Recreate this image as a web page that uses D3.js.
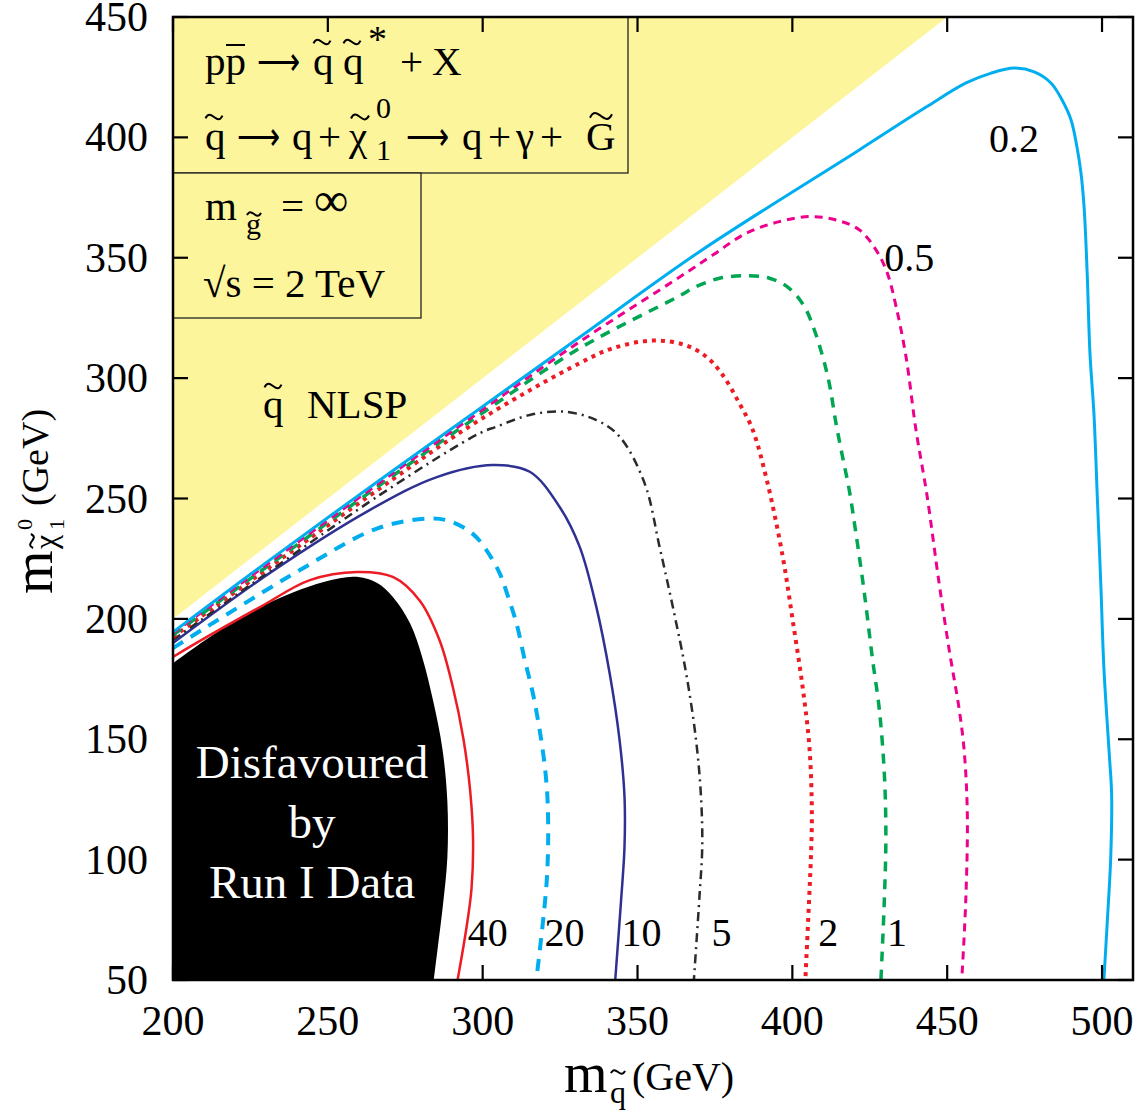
<!DOCTYPE html>
<html><head><meta charset="utf-8">
<script src="https://cdn.jsdelivr.net/npm/d3@7"></script>
<style>
body{margin:0;background:#fff}
text{font-family:"Liberation Serif","Times New Roman",Times,serif;fill:#000}
</style>
</head><body>
<svg id="chart" width="1147" height="1118"></svg>
<script>
// ---------------- data (GeV) ----------------
const xTicks = [200, 250, 300, 350, 400, 450, 500];
const yTicks = [50, 100, 150, 200, 250, 300, 350, 400, 450];
const contourLevels = ["40", "20", "10", "5", "2", "1", "0.5", "0.2"];

// squark-NLSP region boundary (m_chi > m_squark)
const nlspRegion = [[200, 200], [450, 450], [200, 450]];

// boundary of the region disfavoured by Run I data (closed down to the axis corner)
const excludedBoundary = [[200,181.5],[217.4,197],[238.7,211],[258.1,217.5],[265.8,215],[271,209.1],[276.5,198.3],[280.5,184],[284,166],[287,146],[288.6,124],[288.6,101],[287.1,80.3],[285.4,62.5],[284.2,50]];
const excludedCorner = [200, 50];

const contour40 = [[200,184.2],[206.5,189.2],[228.1,204.9],[244.2,216.1],[259.4,219.5],[271,217.4],[279.7,207.5],[286.1,191],[290.3,172],[293.8,150],[296,128],[296.9,108],[296.4,88],[294.8,72],[291.9,50]];
const contour20 = [[200,187.9],[241,220.3],[265.8,237.5],[281.8,241.6],[289.4,240.6],[296.9,235.2],[301.2,228.6],[305.5,218.9],[308.2,209.2],[310.9,198.2],[313.6,182.9],[316.2,169.1],[318.4,153.8],[320.3,135.9],[321.1,119.2],[320.7,91.5],[317.3,50]];
const contour10 = [[200,190],[231.3,219.1],[263.5,245.2],[285.2,258.9],[303.2,263.9],[315.2,261.1],[324.8,246.6],[331.3,230],[336.7,205],[341,177.4],[344.2,149.7],[345.8,126.1],[345.8,105.4],[344.7,83.2],[342.8,50]];
const contour5 = [[200,191.2],[266.8,251.5],[299,277.1],[304.4,279.8],[315.2,284.7],[325.9,286.1],[336.7,282.6],[344.2,275.7],[352.3,256.3],[357.1,230],[361.4,205],[365.7,177.4],[368.9,149.7],[370.5,126.1],[370.9,105.4],[370,84.6],[368.2,50]];
const contour2 = [[200,192.5],[266.8,254.2],[299,282.6],[331.3,306.2],[342,312.4],[354.9,315.6],[365.2,313.8],[372.2,308.9],[377.5,301.3],[382.9,289.5],[387.2,278.5],[392,256.3],[396.9,225.8],[400.1,199.5],[403.3,171.8],[405.5,146.9],[406.3,119.2],[406,101.2],[405.5,86],[404.2,50]];
const contour1 = [[200,193.3],[266.8,255.6],[299,284.7],[331.3,312.4],[363.5,334.1],[368.9,338],[376.5,341.5],[385.1,342.5],[392.6,341.5],[399,337.3],[403.9,329.7],[407.1,320],[409.8,308.9],[411.9,297.9],[414.1,281.2],[416.2,267.4],[418.4,253.3],[420.5,235.8],[423.2,211.2],[425.9,183.1],[428.1,162.2],[429.7,135.7],[430.2,109.4],[429.7,83.1],[428.6,50]];
const contour05 = [[200,194.1],[266.8,256.6],[299,286],[331.3,315.1],[363.5,341.9],[374.3,351.1],[385.1,360.2],[395.8,365],[405.5,367.1],[414.1,365.7],[421.6,361.6],[427,353.3],[430.7,343.5],[433.5,329.7],[436.7,308.9],[439.9,278.6],[443.4,252],[447.4,214.7],[450.7,186.7],[453.9,162.2],[455.5,145],[456.5,118.5],[456,83.1],[454.7,50]];
const contour02 = [[200,194.5],[231.3,224.5],[266.8,257.7],[299,287.3],[331.3,317],[370,352.5],[421.6,394.8],[443.2,412.6],[456.1,422.6],[464.2,426.7],[471.6,428.8],[478.1,427.2],[483.5,422.6],[487.1,415.5],[490,407.2],[491.9,396],[493.2,385.2],[494.2,371.1],[495.2,343.7],[496.1,310.4],[497.4,284.9],[498.5,249.8],[499.6,214.7],[500.6,179.6],[502.3,144.5],[503.1,127],[502.8,100.7],[501.7,74.3],[500.6,50]];

// label anchor positions (GeV) for each contour
const labelAnchors = [[295.2,64.1],[320,64.1],[344.8,64.1],[373.9,64.1],[408.4,64.1],[430.6,64.1],[429.7,344.5],[463.5,393.9]];

// ---------------- styles ----------------
const styles = {
  "40":  {stroke:"#ed1c24", width:2.5, dash:null},
  "20":  {stroke:"#00aeef", width:4,   dash:"12,9"},
  "10":  {stroke:"#2e3192", width:2.5, dash:null},
  "5":   {stroke:"#2b2b2b", width:2.5, dash:"9,5,2,5"},
  "2":   {stroke:"#ed1c24", width:4,   dash:"4,5"},
  "1":   {stroke:"#00a651", width:3.5, dash:"10,8"},
  "0.5": {stroke:"#ec008c", width:3,   dash:"8,6"},
  "0.2": {stroke:"#00aeef", width:3,   dash:null}
};
const contourData = [contour40, contour20, contour10, contour5, contour2, contour1, contour05, contour02];
const contours = contourLevels.map((lv, i) => ({level: lv, points: contourData[i], label: labelAnchors[i]}));

// ---------------- layout ----------------
const svg = d3.select("#chart");
const L = 173, R = 1133, T = 17, B = 980;
const x = d3.scaleLinear().domain([200, 510]).range([L, R]);
const y = d3.scaleLinear().domain([50, 450]).range([B, T]);

svg.append("defs").append("clipPath").attr("id","clip")
  .append("rect").attr("x",L).attr("y",T).attr("width",R-L).attr("height",B-T);
const plot = svg.append("g").attr("clip-path","url(#clip)");

const YEL = "#fdf59c";
plot.append("path")
  .attr("d", d3.line().x(d=>x(d[0])).y(d=>y(d[1]))(nlspRegion) + "Z")
  .attr("fill", YEL);

plot.append("rect").attr("x",L).attr("y",T).attr("width",628-L).attr("height",173-T)
  .attr("fill",YEL).attr("stroke","#222").attr("stroke-width",1.3);
plot.append("rect").attr("x",L).attr("y",173).attr("width",421-L).attr("height",318-173)
  .attr("fill",YEL).attr("stroke","#222").attr("stroke-width",1.3);

// excluded region
const smooth = d3.line().x(d=>x(d[0])).y(d=>y(d[1])).curve(d3.curveCatmullRom.alpha(0.5));
plot.append("path")
  .attr("d", smooth(excludedBoundary) + `L${x(excludedCorner[0])},${y(excludedCorner[1])}Z`)
  .attr("fill","#000");

// contours
plot.selectAll("path.contour").data(contours).join("path")
  .attr("class","contour")
  .attr("d", d=>smooth(d.points))
  .attr("fill","none")
  .attr("stroke", d=>styles[d.level].stroke)
  .attr("stroke-width", d=>styles[d.level].width)
  .attr("stroke-dasharray", d=>styles[d.level].dash)
  .attr("stroke-linejoin","round");

svg.selectAll("text.clab").data(contours).join("text")
  .attr("class","clab")
  .attr("x", d=>x(d.label[0])).attr("y", d=>y(d.label[1]))
  .attr("font-size", 40)
  .text(d=>d.level);

// excluded region text
[["Disfavoured",778],["by",838],["Run I Data",898]].forEach(([t,yy])=>{
  svg.append("text").attr("x",312).attr("y",yy).attr("text-anchor","middle")
    .attr("font-size",47).style("fill","#fff").text(t);
});

// helpers
function txt(parent, str, xx, yy, fs){
  return parent.append("text").attr("x",xx).attr("y",yy).attr("font-size",fs).text(str);
}
function tilde(parent, cx, cy, w){
  const h = w*0.2;
  parent.append("path")
    .attr("d",`M${cx-w/2},${cy+h*0.4} C${cx-w/3},${cy-h*1.3} ${cx-w/6},${cy-h*0.6} ${cx},${cy} S${cx+w/3},${cy+h*1.3} ${cx+w/2},${cy-h*0.4}`)
    .attr("fill","none").attr("stroke","#000").attr("stroke-width",2);
}
function arrow(parent, xx, yy, w){
  return parent.append("text").attr("x",xx).attr("y",yy).attr("font-size",40)
    .attr("textLength",w).attr("lengthAdjust","spacingAndGlyphs").text("\u27F6");
}
const FS = 41;
// line 1: p pbar -> sq sq* + X
txt(svg,"pp", 205, 75, FS);
svg.append("line").attr("x1",226).attr("x2",245).attr("y1",45).attr("y2",45).attr("stroke","#000").attr("stroke-width",2);
arrow(svg, 257, 75, 43);
txt(svg,"q", 313, 75, FS); tilde(svg, 322, 42, 17);
txt(svg,"q", 343, 75, FS); tilde(svg, 352, 42, 17);
txt(svg,"*", 368, 52, 38);
txt(svg,"+", 400, 75, FS);
txt(svg,"X", 432, 75, FS);
// line 2
txt(svg,"q", 205, 150, FS); tilde(svg, 214, 117, 17);
arrow(svg, 237, 150, 43);
txt(svg,"q", 292, 150, FS);
txt(svg,"+", 318, 150, FS);
txt(svg,"\u03C7", 349, 150, FS); tilde(svg, 360, 117, 18);
txt(svg,"0", 376, 118, 30);
txt(svg,"1", 376, 160, 30);
arrow(svg, 406, 150, 43);
txt(svg,"q", 462, 150, FS);
txt(svg,"+", 488, 150, FS);
txt(svg,"\u03B3", 516, 150, FS);
txt(svg,"+", 540, 150, FS);
txt(svg,"G", 586, 150, FS); tilde(svg, 601, 116, 22);
// box 2
txt(svg,"m", 205, 220, FS);
txt(svg,"g", 246, 234, 30); tilde(svg, 254, 214, 14);
txt(svg,"=", 281, 220, FS);
txt(svg,"\u221E", 314, 216, 48);
txt(svg,"\u221As = 2 TeV", 203, 297, FS);
// NLSP
txt(svg,"q", 263, 418, FS); tilde(svg, 273, 386, 17);
txt(svg,"NLSP", 307, 418, FS);

// frame
svg.append("rect").attr("x",L).attr("y",T).attr("width",R-L).attr("height",B-T)
  .attr("fill","none").attr("stroke","#000").attr("stroke-width",2.5);

// ticks (inward on all four sides)
const TL = 15;
const tk = svg.append("g").attr("stroke","#000").attr("stroke-width",2.2);
xTicks.forEach(v=>{
  tk.append("line").attr("x1",x(v)).attr("x2",x(v)).attr("y1",B).attr("y2",B-TL);
  tk.append("line").attr("x1",x(v)).attr("x2",x(v)).attr("y1",T).attr("y2",T+TL);
});
yTicks.forEach(v=>{
  tk.append("line").attr("x1",L).attr("x2",L+TL).attr("y1",y(v)).attr("y2",y(v));
  tk.append("line").attr("x1",R).attr("x2",R-TL).attr("y1",y(v)).attr("y2",y(v));
});

svg.selectAll("text.xl").data(xTicks).join("text").attr("class","xl")
  .attr("x", d=>x(d)).attr("y", 1035).attr("text-anchor","middle").attr("font-size",42).text(d=>d);
svg.selectAll("text.yl").data(yTicks).join("text").attr("class","yl")
  .attr("x", 148).attr("y", d=>y(d)+14).attr("text-anchor","end").attr("font-size",42).text(d=>d);

// x axis title
txt(svg,"m", 564, 1092, 56);
txt(svg,"q", 610, 1103, 32); tilde(svg, 618, 1072, 14);
txt(svg,"(GeV)", 632, 1090, 40);

// y axis title (rotated)
const yt = svg.append("g").attr("transform","translate(52,594) rotate(-90)");
txt(yt,"m", 0, 0, 56);
txt(yt,"\u03C7", 45, 4, 32); tilde(yt, 53, -20, 14);
txt(yt,"1", 64, 12, 22);
txt(yt,"0", 64, -20, 22);
txt(yt,"(GeV)", 88, -4, 38);
</script>
</body></html>
